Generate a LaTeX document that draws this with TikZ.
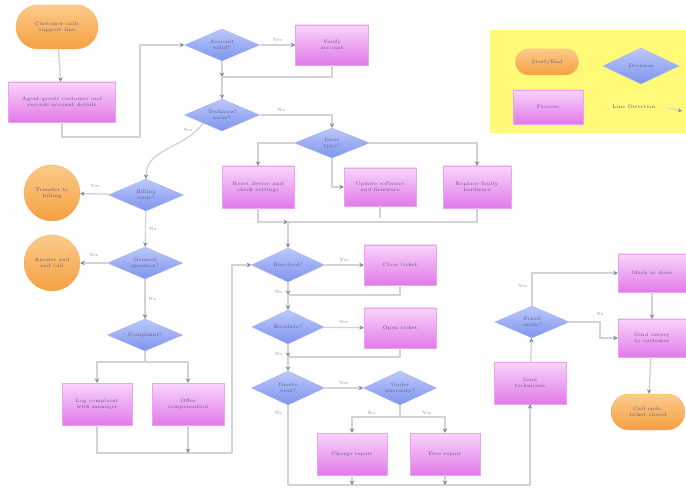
\documentclass[tikz,border=0pt]{standalone}
\usetikzlibrary{shapes.geometric,shapes.misc,arrows.meta,calc}
\definecolor{orL}{HTML}{FCCB8A}
\definecolor{orD}{HTML}{F4A040}
\definecolor{prL}{HTML}{F8D4FA}
\definecolor{prD}{HTML}{E27AEA}
\definecolor{diL}{HTML}{BCC8FA}
\definecolor{diD}{HTML}{7E94EE}
\definecolor{lnC}{HTML}{D2D2DA}
\definecolor{tipC}{HTML}{8A8A96}
\definecolor{txC}{HTML}{5A5A86}
\definecolor{lgY}{HTML}{FFFA78}
\begin{document}
\begin{tikzpicture}[x=1pt,y=-1pt,
  every node/.style={font=\fontsize{5}{6}\selectfont, text=txC, align=center, inner sep=1pt},
  term/.style={rounded rectangle, top color=orL, bottom color=orD, draw=orD!80, line width=0.4pt},
  termc/.style={circle, top color=orL, bottom color=orD, draw=orD!80, line width=0.4pt, minimum size=56pt},
  proc/.style={rectangle, top color=prL, bottom color=prD, draw=prD!70, line width=0.4pt},
  dia/.style={diamond, aspect=2.4, inner sep=0pt, top color=diL, bottom color=diD, draw=diD!70, line width=0.4pt, minimum width=75pt, minimum height=32pt},
  flow/.style={draw=lnC, line width=1.3pt, -{Stealth[length=4.5pt,width=4.5pt,color=tipC]}},
  line/.style={draw=lnC, line width=1.3pt},
  lbl/.style={font=\fontsize{4.5}{5}\selectfont, text=tipC}
]
\useasboundingbox (0,0) rectangle (686,497);
\fill[white] (0,0) rectangle (686,497);

% legend
\fill[lgY] (490,30) rectangle (686,133);
\node[term, minimum width=65pt, minimum height=26pt] (lterm) at (547,62) {Start/End};
\node[dia, minimum width=76pt, minimum height=36pt] (ldia) at (641,66) {Decision};
\node[proc, minimum width=70pt, minimum height=34pt] (lproc) at (548,107) {Process};
\node (ltxt) at (634,107) {Line Direction};
\coordinate (la) at (668,108);
\coordinate (lb) at (682,111);
\draw[-{Stealth[length=4pt,width=4pt,color=tipC]}, draw=lnC, line width=1pt] (la) -- (lb);

% nodes
\node[term, minimum width=84pt, minimum height=44pt] (start) at (57,27) {Customer calls\\support line};
\node[proc, minimum width=107pt, minimum height=40pt] (p1) at (62,102) {Agent greets customer and\\records account details};
\node[dia] (d1) at (222,45) {Account\\valid?};
\node[proc, minimum width=73pt, minimum height=40pt] (p2) at (332,45) {Verify\\account};
\node[dia] (d2) at (222,115) {Technical\\issue?};
\node[dia, minimum height=30pt] (d3) at (332,143) {Issue\\type?};
\node[proc, minimum width=72pt, minimum height=42pt] (p3) at (258,187) {Reset device and\\check settings};
\node[proc, minimum width=72pt, minimum height=38pt] (p4) at (380,187) {Update software\\and firmware};
\node[proc, minimum width=68pt, minimum height=42pt] (p5) at (477,187) {Replace faulty\\hardware};
\node[dia, minimum width=73pt, minimum height=34pt] (d4) at (288,265) {Resolved?};
\node[proc, minimum width=72pt, minimum height=40pt] (p6) at (400,265) {Close ticket};
\node[dia, minimum width=72pt, minimum height=34pt] (d5) at (288,327) {Escalate?};
\node[proc, minimum width=72pt, minimum height=40pt] (p7) at (400,328) {Open ticket};
\node[dia, minimum width=73pt, minimum height=34pt] (d6) at (288,388) {Onsite\\visit?};
\node[dia, minimum width=73pt, minimum height=34pt] (d7) at (400,388) {Under\\warranty?};
\node[proc, minimum width=70pt, minimum height=42pt] (p8) at (352,454) {Charge repair};
\node[proc, minimum width=70pt, minimum height=42pt] (p9) at (445,454) {Free repair};
\node[proc, minimum width=72pt, minimum height=42pt] (p10) at (530,383) {Send\\technician};
\node[dia, minimum width=74pt, minimum height=32pt] (d8) at (532,322) {Fixed\\onsite?};
\node[proc, minimum width=68pt, minimum height=38pt] (p11) at (652,273) {Mark as done};
\node[proc, minimum width=68pt, minimum height=38pt] (p12) at (652,338) {Send survey\\to customer};
\node[term, minimum width=76pt, minimum height=36pt] (end) at (648,412) {Call ends,\\ticket closed};

\node[dia] (d9) at (146,195) {Billing\\issue?};
\node[termc] (t2) at (52,193) {Transfer to\\billing};
\node[dia] (d10) at (145,263) {General\\question?};
\node[termc] (t3) at (52,263) {Answer and\\end call};
\node[dia] (d11) at (145,335) {Complaint?};
\node[proc, minimum width=70pt, minimum height=42pt] (p13) at (97,404) {Log complaint\\with manager};
\node[proc, minimum width=72pt, minimum height=42pt] (p14) at (188,404) {Offer\\compensation};

% coordinates
\coordinate (c1) at (62,137);
\coordinate (c2) at (140,137);
\coordinate (c3) at (140,45);
\coordinate (m1) at (222,77);
\coordinate (m2) at (288,222);
\coordinate (m2r) at (477,218);
\coordinate (m3) at (288,295);
\coordinate (m4) at (288,357);
\coordinate (s7) at (400,417);
\coordinate (b1) at (288,485);
\coordinate (b2) at (530,485);
\coordinate (s11) at (145,362);
\coordinate (l1) at (97,453);
\coordinate (l2) at (232,453);
\coordinate (l3) at (232,265);
\coordinate (r8) at (600,322);

% connectors
\draw[flow] (start) -- (p1);
\draw[flow] (p1.south) -- (c1) -- (c2) -- (c3) -- (d1.west);
\draw[flow] (d1) -- (p2) node[lbl, midway, above=2pt] {Yes};
\draw[flow] (d1.south) -- (m1);
\draw[line] (p2.south) |- (m1);
\draw[flow] (m1) -- (d2.north);
\draw[flow] (d2.east) -| (d3.north) node[lbl, pos=0.15, above=2pt] {No};
\draw[flow] (d2.south west) to[out=235, in=90] node[lbl, pos=0.1, left=3pt] {Yes} (d9.north);
\draw[flow] (d3.west) -| (p3.north);
\draw[flow] (d3.east) -| (p5.north);
\draw[flow] (d3.south) |- (p4.west);
\draw[flow] (p3.south) |- (m2);
\draw[line] (p5.south) |- (m2);
\draw[line] (p4.south) -- (p4.south |- m2r);
\draw[flow] (m2) -- (d4.north);
\draw[flow] (d4) -- (p6) node[lbl, midway, above=2pt] {Yes};
\draw[flow] (d4.south) -- (m3) node[lbl, pos=0.8, left=4pt] {No};
\draw[line] (p6.south) |- (m3);
\draw[flow] (m3) -- (d5.north);
\draw[flow] (d5) -- (p7) node[lbl, midway, above=2pt] {Yes};
\draw[flow] (d5.south) -- (m4) node[lbl, pos=0.8, left=4pt] {No};
\draw[line] (p7.south) |- (m4);
\draw[flow] (m4) -- (d6.north);
\draw[flow] (d6) -- (d7) node[lbl, midway, above=2pt] {Yes};
\draw[line] (d7.south) -- (s7);
\draw[flow] (s7) -| (p8.north) node[lbl, pos=0.3, above=1pt] {No};
\draw[flow] (s7) -| (p9.north) node[lbl, pos=0.3, above=1pt] {Yes};
\draw[line] (d6.south) -- (b1) node[lbl, pos=0.1, left=4pt] {No};
\draw[flow] (b1) -- (b2) -- (p10.south);
\draw[flow] (p8.south) -- (p8.south |- b1);
\draw[flow] (p9.south) -- (p9.south |- b1);
\draw[flow] (p10) -- (d8);
\draw[flow] (d8.north) |- (p11.west) node[lbl, pos=0.3, left=3pt] {Yes};
\draw[flow] (d8.east) -- (r8) |- (p12.west) node[lbl, pos=0.05, above=6pt] {No};
\draw[flow] (p11) -- (p12);
\draw[flow] (p12) -- (end);

\draw[flow] (d9) -- (t2) node[lbl, midway, above=5pt] {Yes};
\draw[flow] (d9) -- (d10) node[lbl, midway, right=2pt] {No};
\draw[flow] (d10) -- (t3) node[lbl, midway, above=5pt] {Yes};
\draw[flow] (d10) -- (d11) node[lbl, midway, right=2pt] {No};
\draw[line] (d11.south) -- (s11);
\draw[flow] (s11) -| (p13.north);
\draw[flow] (s11) -| (p14.north);
\draw[line] (p13.south) -- (l1) -- (l2);
\draw[flow] (p14.south) -- (p14.south |- l1);
\draw[flow] (l2) -- (l3) -- (d4.west);
\end{tikzpicture}
\end{document}
